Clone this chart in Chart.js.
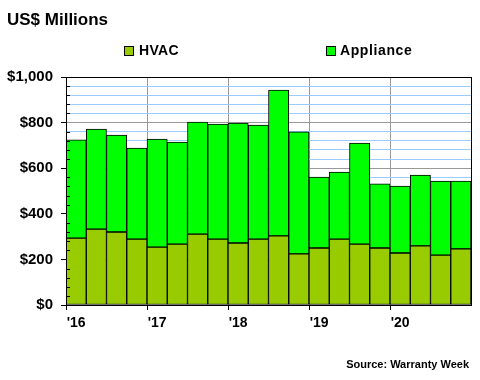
<!DOCTYPE html>
<html><head><meta charset="utf-8">
<script src="https://cdn.jsdelivr.net/npm/chart.js@4"></script>
<style>
html,body{margin:0;padding:0;background:#fff;}
#wrap{position:relative;width:480px;height:380px;font-family:"Liberation Sans",Arial,sans-serif;color:#000;}
canvas{position:absolute;left:0;top:0;}
.t{position:absolute;font-weight:bold;white-space:nowrap;line-height:1;}
.box{position:absolute;width:8px;height:8px;border:1px solid #000;}
</style></head>
<body><div id="wrap">
<canvas id="c" width="480" height="380"></canvas>
<div class="t" style="left:7px;top:11px;font-size:17px;">US$ Millions</div>
<div class="box" style="left:124px;top:46px;background:#99cc00;"></div>
<div class="t" style="left:139px;top:43px;font-size:14px;letter-spacing:0.3px;">HVAC</div>
<div class="box" style="left:326px;top:46px;background:#00ff00;"></div>
<div class="t" style="left:340px;top:43px;font-size:14px;letter-spacing:0.6px;">Appliance</div>
<div class="t" style="right:11px;top:359px;font-size:11px;">Source: Warranty Week</div>
</div>
<script>
const quarters = ['Q1 2016','Q2 2016','Q3 2016','Q4 2016','Q1 2017','Q2 2017','Q3 2017','Q4 2017','Q1 2018','Q2 2018','Q3 2018','Q4 2018','Q1 2019','Q2 2019','Q3 2019','Q4 2019','Q1 2020','Q2 2020','Q3 2020','Q4 2020'];
const yearLabels = ["'16","'17","'18","'19","'20"];
const hvac = [293,333,320,289,254,267,311,289,272,289,303,224,250,289,267,250,228,259,219,246];
const appliance = [431,439,425,399,474,448,491,505,526,500,640,535,311,294,443,281,294,311,325,298];

const FONT = '"Liberation Sans", Arial, sans-serif';

const frame = {
  id:'frame',
  afterDatasetsDraw(chart){
    const {ctx, chartArea:a, scales:{y}} = chart;
    ctx.save();
    ctx.strokeStyle = '#000';
    ctx.lineWidth = 1;
    ctx.beginPath();
    for (let v = 40; v < 1000; v += 40) {
      if (v % 200 === 0) continue;
      const py = Math.round(y.getPixelForValue(v)) + 0.5;
      ctx.moveTo(a.left, py); ctx.lineTo(a.left + 4, py);
    }
    ctx.stroke();
    ctx.strokeRect(Math.round(a.left)+0.5, Math.round(a.top)+0.5, Math.round(a.right-a.left), Math.round(a.bottom-a.top));
    ctx.restore();
  }
};

new Chart(document.getElementById('c'), {
  type:'bar',
  data:{
    labels: quarters,
    datasets:[
      {label:'HVAC', data:hvac, backgroundColor:'#99cc00', borderColor:'#000', borderWidth:1, borderSkipped:false, categoryPercentage:1, barPercentage:1},
      {label:'Appliance', data:appliance, backgroundColor:'#00ff00', borderColor:'#000', borderWidth:1, borderSkipped:false, categoryPercentage:1, barPercentage:1}
    ]
  },
  options:{
    responsive:false, animation:false, devicePixelRatio:1,
    layout:{padding:{top:77,right:9,left:0,bottom:0}},
    plugins:{legend:{display:false}, title:{display:false}, tooltip:{enabled:false}},
    scales:{
      x:{
        stacked:true,
        afterFit(s){ s.height = 75; },
        grid:{offset:true, drawOnChartArea:true, tickLength:5,
          color:c=> (c.index % 4 === 0 ? '#999999' : 'rgba(0,0,0,0)'),
          tickColor:c=> (c.index % 4 === 0 ? '#000' : 'rgba(0,0,0,0)'), lineWidth:1},
        border:{color:'#000', width:1},
        ticks:{autoSkip:false, maxRotation:0, minRotation:0, padding:5, color:'#000',
          font:{family:FONT, size:14, weight:'bold'},
          callback:(v,i)=> (i % 4 === 0 ? yearLabels[i/4] : '')}
      },
      y:{
        stacked:true, min:0, max:1000,
        afterFit(s){ s.width = 66; },
        grid:{tickLength:5,
          color:c=> (c.tick.value % 200 === 0 ? '#999999' : '#99ccff'),
          tickColor:c=> (c.tick.value % 200 === 0 ? '#000' : 'rgba(0,0,0,0)'), lineWidth:1},
        border:{color:'#000', width:1},
        ticks:{stepSize:40, padding:8, color:'#000', autoSkip:false,
          font:{family:FONT, size:15, weight:'bold'},
          callback:v=> (v % 200 === 0 ? '$' + v.toLocaleString('en-US') : '')}
      }
    }
  },
  plugins:[frame]
});
</script></body></html>
